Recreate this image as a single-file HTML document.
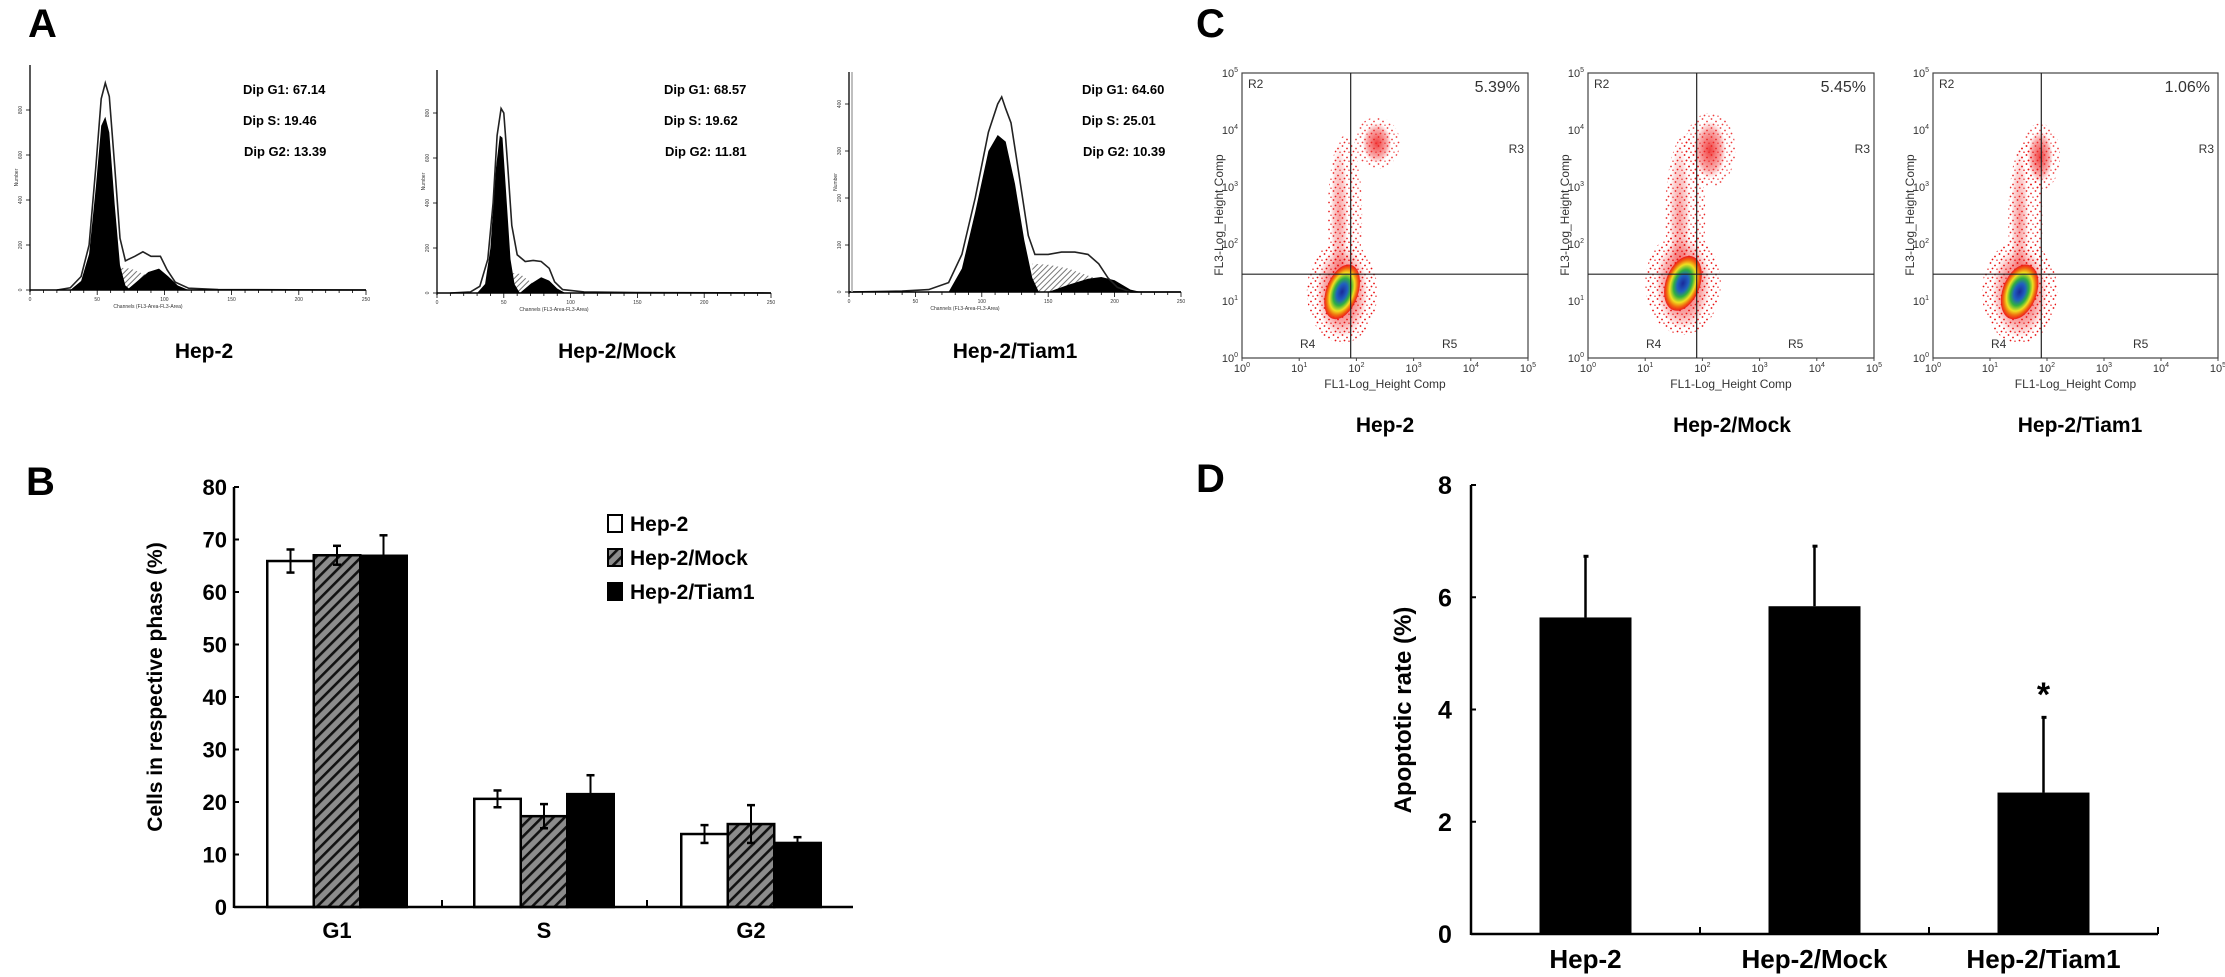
<!DOCTYPE html>
<html><head><meta charset="utf-8"><style>
html,body{margin:0;padding:0;background:#fff;}
svg{display:block;font-family:"Liberation Sans",Arial,sans-serif;}
</style></head><body>
<svg id="fig" xmlns="http://www.w3.org/2000/svg" width="2225" height="977" viewBox="0 0 2225 977">
<defs>
<pattern id="hatchB" patternUnits="userSpaceOnUse" width="8" height="8" patternTransform="rotate(45)"><rect width="8" height="8" fill="#8c8c8c"/><rect width="2.6" height="8" fill="#111"/></pattern>
<pattern id="hatchS" patternUnits="userSpaceOnUse" width="4" height="4" patternTransform="rotate(45)"><rect width="4" height="4" fill="#fff"/><rect width="1" height="4" fill="#777"/></pattern>
<pattern id="speck" patternUnits="userSpaceOnUse" width="9" height="9"><circle cx="1.5" cy="2" r="0.9" fill="#e81010"/><circle cx="6" cy="4.5" r="0.9" fill="#e81010"/><circle cx="3.5" cy="7.5" r="0.9" fill="#e81010"/><circle cx="8" cy="8.2" r="0.7" fill="#e81010"/></pattern>
<radialGradient id="core"><stop offset="0" stop-color="#1a2a9a"/><stop offset="0.3" stop-color="#2060c0"/><stop offset="0.5" stop-color="#30b040"/><stop offset="0.7" stop-color="#f0e020"/><stop offset="0.85" stop-color="#f07010"/><stop offset="1" stop-color="#ee1010" stop-opacity="0.9"/></radialGradient>
<radialGradient id="halo"><stop offset="0" stop-color="#ee1010" stop-opacity="0.8"/><stop offset="0.7" stop-color="#ee1010" stop-opacity="0.35"/><stop offset="1" stop-color="#ee1010" stop-opacity="0"/></radialGradient>
</defs>
<g id="layer"></g>
</svg>
<script>
// ---------- DATA ----------
const phaseCategories = ["G1","S","G2"];
const seriesNames = ["Hep-2","Hep-2/Mock","Hep-2/Tiam1"];
const hep2Values = [65.9, 20.6, 13.9];
const mockValues = [67.0, 17.3, 15.8];
const tiamValues = [66.9, 21.5, 12.2];
const hep2Err = [2.2, 1.6, 1.7];
const mockErr = [1.8, 2.3, 3.6];
const tiamErr = [3.9, 3.6, 1.1];
const bTicks = [0,10,20,30,40,50,60,70,80];
const dCategories = ["Hep-2","Hep-2/Mock","Hep-2/Tiam1"];
const apoptoticValues = [5.64, 5.84, 2.52];
const apoptoticErr = [1.09, 1.07, 1.34];
const dTicks = [0,2,4,6,8];
const hist1Outline = [[20,0],[30,10],[38,60],[44,200],[49,550],[53,850],[56,920],[59,860],[63,550],[67,230],[71,130],[78,150],[84,170],[90,150],[97,150],[102,90],[108,35],[118,8],[140,2],[250,0]];
const hist1G1 = [[30,0],[38,40],[44,160],[49,460],[53,730],[56,770],[59,700],[63,380],[67,110],[71,20],[75,0]];
const hist1G2 = [[72,0],[80,40],[88,80],[96,95],[103,60],[110,20],[118,0]];
const hist1S = [[66,100],[75,95],[85,70],[95,40],[105,10]];
const hist2Outline = [[10,0],[25,5],[32,30],[38,150],[42,400],[45,700],[48,820],[50,800],[53,560],[56,300],[60,170],[66,140],[72,145],[78,140],[84,110],[88,50],[94,15],[110,5],[150,2],[250,0]];
const hist2G1 = [[30,0],[36,40],[40,200],[44,550],[47,700],[49,690],[52,420],[55,150],[58,40],[62,0]];
const hist2G2 = [[62,0],[70,40],[78,70],[84,55],[90,20],[96,0]];
const hist2S = [[55,90],[62,85],[70,50],[78,20],[84,0]];
const hist3Outline = [[0,0],[40,2],[60,5],[75,20],[85,80],[95,200],[105,340],[112,400],[115,415],[118,390],[122,360],[128,250],[135,120],[140,80],[150,80],[160,85],[170,85],[180,80],[188,60],[195,30],[202,10],[212,0],[250,0]];
const hist3G1 = [[75,0],[85,50],[95,170],[105,300],[112,334],[118,320],[125,230],[132,110],[138,30],[143,0]];
const hist3G2 = [[150,0],[165,15],[180,28],[190,32],[200,25],[212,5],[220,0]];
const hist3S = [[138,60],[150,58],[165,50],[180,35],[195,20]];
const histStats = [["67.14","19.46","13.39"],["68.57","19.62","11.81"],["64.60","25.01","10.39"]];
const groupLabels = ["Hep-2","Hep-2/Mock","Hep-2/Tiam1"];
const mainClusters = [[1.75,1.16,0.28,0.5],[1.66,1.31,0.3,0.5],[1.52,1.16,0.3,0.5]];
const upperClusters = [[2.36,3.77,0.25,0.35],[2.13,3.65,0.28,0.5],[1.88,3.53,0.22,0.45]];
const streamClusters = [[1.8,2.5,0.3,1.4],[1.7,2.5,0.35,1.4],[1.62,2.4,0.3,1.4]];
const upperRightPct = ["5.39%","5.45%","1.06%"];

// ---------- HELPERS ----------
const NS = "http://www.w3.org/2000/svg";
const layer = document.getElementById("layer");
function mk(tag, attrs, parent){ const e=document.createElementNS(NS,tag); for(const k in attrs) e.setAttribute(k,attrs[k]); (parent||layer).appendChild(e); return e; }
function txt(x,y,s,size,opts,parent){ opts=opts||{}; const t=mk("text",{x:x,y:y,"font-size":size,"text-anchor":opts.anchor||"start","font-weight":opts.bold?"bold":"normal",fill:opts.fill||"#000"},parent); if(opts.transform) t.setAttribute("transform",opts.transform); t.textContent=s; return t; }

[["A",28,37],["B",26,495],["C",1196,37],["D",1196,492]].forEach(p=>{
  const t=txt(p[1],p[2],p[0],40,{bold:true});
  
  
});

// ---------- PANEL A ----------
const hists = [
 {x0:30,x1:366,base:290,top:65,perTick:200,pxTick:45,yTicks:[0,200,400,600,800],outline:hist1Outline,g1:hist1G1,g2:hist1G2,s:hist1S,tx:243,lx:204},
 {x0:437,x1:771,base:293,top:70,perTick:200,pxTick:45,yTicks:[0,200,400,600,800],outline:hist2Outline,g1:hist2G1,g2:hist2G2,s:hist2S,tx:664,lx:617},
 {x0:849,x1:1181,base:292,top:72,perTick:100,pxTick:47,yTicks:[0,100,200,300,400],outline:hist3Outline,g1:hist3G1,g2:hist3G2,s:hist3S,tx:1082,lx:1015}
];
hists.forEach((h,i)=>{
  const g=mk("g",{});
  
  
  const X=c=>h.x0+(c/250)*(h.x1-h.x0);
  const Y=v=>h.base-(v/h.perTick)*h.pxTick;
  const pts=a=>a.map(p=>X(p[0]).toFixed(1)+","+Y(p[1]).toFixed(1)).join(" ");
  const sArea=mk("polygon",{points:pts(h.s)+" "+X(h.s[h.s.length-1][0])+","+h.base+" "+X(h.s[0][0])+","+h.base,fill:"url(#hatchS)"},g);
  
  
  const g1=mk("polygon",{points:pts(h.g1),fill:"#000"},g);
  
  
  const g2=mk("polygon",{points:pts(h.g2),fill:"#000"},g);
  
  
  const o=mk("polyline",{points:pts(h.outline),fill:"none",stroke:"#222","stroke-width":1.6},g);
  
  
  mk("line",{x1:h.x0,y1:h.top,x2:h.x0,y2:h.base+2,stroke:"#000","stroke-width":1.3},g);
  mk("line",{x1:h.x0,y1:h.base,x2:h.x1,y2:h.base,stroke:"#000","stroke-width":1.5},g);
  for(let c=0;c<=250;c+=10){ mk("line",{x1:X(c),y1:h.base,x2:X(c),y2:h.base+(c%50==0?5:3),stroke:"#000","stroke-width":0.8},g); }
  for(let c=0;c<=250;c+=50){ txt(X(c),h.base+11,String(c),5,{anchor:"middle",fill:"#333"},g); }
  h.yTicks.forEach(v=>{ mk("line",{x1:h.x0-4,y1:Y(v),x2:h.x0,y2:Y(v),stroke:"#000","stroke-width":0.8},g); txt(h.x0-8,Y(v),String(v),5,{anchor:"middle",fill:"#333",transform:`rotate(-90 ${h.x0-8} ${Y(v)})`},g); });
  txt(h.x0-12,(h.top+h.base)/2,"Number",5,{anchor:"middle",fill:"#333",transform:`rotate(-90 ${h.x0-12} ${(h.top+h.base)/2})`},g);
  txt((h.x0+h.x1)/2-50,h.base+18,"Channels (FL3-Area-FL3-Area)",5,{anchor:"middle",fill:"#333"},g);
  if(i==2){ mk("line",{x1:h.x0+3,y1:h.top,x2:h.x0+3,y2:h.base,stroke:"#aaa","stroke-width":1.5},g); }
  const labs=["Dip G1: ","Dip S: ","Dip G2: "];
  [94,125,156].forEach((yy,k)=>{ const t=txt(h.tx+(k==2?1:0),yy,labs[k]+histStats[i][k],13,{bold:true},g);
      });
  const gl=txt(h.lx,358,groupLabels[i],21,{anchor:"middle",bold:true});
  
  
});

// ---------- PANEL C ----------
const scat=[{l:1242,r:1528},{l:1588,r:1874},{l:1933,r:2218}];
const sTop=73,sBot=358;
scat.forEach((s,i)=>{
  const g=mk("g",{});
  
  
  const dec=(s.r-s.l)/5, decY=(sBot-sTop)/5;
  const X=v=>s.l+v*dec, Y=v=>sBot-v*decY;
  const st=streamClusters[i];
  mk("ellipse",{cx:X(st[0]),cy:Y(st[1]),rx:st[2]*dec,ry:st[3]*decY,fill:"url(#speck)",opacity:0.9},g);
  mk("ellipse",{cx:X(st[0]-0.1),cy:Y(st[1]),rx:st[2]*dec*0.5,ry:st[3]*decY*0.9,fill:"url(#halo)",opacity:0.5},g);
  const up=upperClusters[i];
  mk("ellipse",{cx:X(up[0]),cy:Y(up[1]),rx:up[2]*dec*1.6,ry:up[3]*decY*1.3,fill:"url(#speck)",opacity:0.8},g);
  const ue=mk("ellipse",{cx:X(up[0]),cy:Y(up[1]),rx:up[2]*dec,ry:up[3]*decY,fill:"url(#halo)"},g);
  
  
  const m=mainClusters[i];
  mk("ellipse",{cx:X(m[0]),cy:Y(m[1]),rx:m[2]*dec*2.2,ry:m[3]*decY*1.8,fill:"url(#speck)"},g);
  mk("ellipse",{cx:X(m[0]),cy:Y(m[1]),rx:m[2]*dec*1.6,ry:m[3]*decY*1.6,fill:"url(#halo)"},g);
  const me=mk("ellipse",{cx:X(m[0]),cy:Y(m[1]),rx:m[2]*dec,ry:m[3]*decY,fill:"url(#core)",transform:`rotate(20 ${X(m[0])} ${Y(m[1])})`},g);
  
  
  mk("rect",{x:s.l,y:sTop,width:s.r-s.l,height:sBot-sTop,fill:"none",stroke:"#444","stroke-width":1.2},g);
  const vx=X(1.9), hy=Y(1.47);
  mk("line",{x1:vx,y1:sTop,x2:vx,y2:sBot,stroke:"#222","stroke-width":1.2},g);
  mk("line",{x1:s.l,y1:hy,x2:s.r,y2:hy,stroke:"#222","stroke-width":1.2},g);
  for(let d=0;d<=5;d++){
    mk("line",{x1:X(d),y1:sBot,x2:X(d),y2:sBot+3,stroke:"#444"},g);
    const tx=mk("text",{x:X(d),y:372,"font-size":11,"text-anchor":"middle",fill:"#333"},g);
    tx.innerHTML="10<tspan dy='-5' font-size='7'>"+d+"</tspan>";
    const ty=mk("text",{x:s.l-4,y:Y(d)+4,"font-size":11,"text-anchor":"end",fill:"#333"},g);
    ty.innerHTML="10<tspan dy='-5' font-size='7'>"+d+"</tspan>";
  }
  txt((s.l+s.r)/2,388,"FL1-Log_Height Comp",12,{anchor:"middle",fill:"#333"},g);
  txt(s.l-19,215,"FL3-Log_Height Comp",12,{anchor:"middle",fill:"#333",transform:`rotate(-90 ${s.l-19} 215)`},g);
  txt(s.l+6,88,"R2",12,{fill:"#333"},g);
  const pc=txt(s.r-8,92,upperRightPct[i],16,{anchor:"end",fill:"#333"},g);
  
  
  txt(s.r-4,153,"R3",12,{anchor:"end",fill:"#333"},g);
  txt(s.l+58,348,"R4",12,{fill:"#333"},g);
  txt(s.l+200,348,"R5",12,{fill:"#333"},g);
  const gl=txt([1385,1732,2080][i],432,groupLabels[i],21,{anchor:"middle",bold:true});
  
  
});

// ---------- PANEL B ----------
(function(){
  const g=mk("g",{});
  
  
  const ax0=234, base=907, top=487, catW=207, barW=46.5, axEnd=853;
  const Y=v=>base-(v/80)*(base-top);
  const catC=i=>337+i*catW;
  const fills=["#fff","url(#hatchB)","#000"];
  const vals=[hep2Values,mockValues,tiamValues], errs=[hep2Err,mockErr,tiamErr];
  phaseCategories.forEach((c,i)=>{
    for(let s=0;s<3;s++){
      const x=catC(i)+(s-1.5)*barW, v=vals[s][i], e=errs[s][i];
      const r=mk("rect",{x:x,y:Y(v),width:barW,height:base-Y(v),fill:fills[s],stroke:"#000","stroke-width":2.5},g);
      
      
      const cx=x+barW/2;
      mk("line",{x1:cx,y1:Y(v+e),x2:cx,y2:Y(v-e),stroke:"#000","stroke-width":2},g);
      mk("line",{x1:cx-4,y1:Y(v+e),x2:cx+4,y2:Y(v+e),stroke:"#000","stroke-width":2.5},g);
      mk("line",{x1:cx-4,y1:Y(v-e),x2:cx+4,y2:Y(v-e),stroke:"#000","stroke-width":2.5},g);
    }
    const l=txt(catC(i),938,c,22,{anchor:"middle",bold:true},g);
    
    
  });
  mk("line",{x1:ax0,y1:top,x2:ax0,y2:base+1,stroke:"#000","stroke-width":2.5},g);
  mk("line",{x1:ax0,y1:base,x2:axEnd,y2:base,stroke:"#000","stroke-width":2.5},g);
  [442,647].forEach(x=>mk("line",{x1:x,y1:base,x2:x,y2:base-7,stroke:"#000","stroke-width":2},g));
  bTicks.forEach(v=>{ mk("line",{x1:ax0,y1:Y(v),x2:ax0+5,y2:Y(v),stroke:"#000","stroke-width":2},g);
    const t=txt(ax0-7,Y(v)+8,String(v),22,{anchor:"end",bold:true},g);
      });
  const yt=txt(162,687,"Cells in respective phase (%)",21,{anchor:"middle",bold:true,transform:"rotate(-90 162 687)"},g);
  
  
  seriesNames.forEach((n,s)=>{
    const yy=[531,565,599][s];
    const lg=mk("g",{},g);
    
    
    mk("rect",{x:608,y:yy-16,width:14,height:17,fill:fills[s],stroke:"#000","stroke-width":2},lg);
    txt(630,yy,n,21,{bold:true},lg);
  });
})();

// ---------- PANEL D ----------
(function(){
  const g=mk("g",{});
  
  
  const ax0=1471, base=934, top=485, catW=229, barW=92, axEnd=2158;
  const Y=v=>base-(v/8)*(base-top);
  const catC=i=>ax0+catW*(i+0.5);
  dCategories.forEach((c,i)=>{
    const v=apoptoticValues[i], e=apoptoticErr[i], x=catC(i)-barW/2;
    const r=mk("rect",{x:x,y:Y(v),width:barW,height:base-Y(v),fill:"#000"},g);
    
    
    mk("line",{x1:catC(i),y1:Y(v),x2:catC(i),y2:Y(v+e),stroke:"#000","stroke-width":2.5},g);
    mk("line",{x1:catC(i)-2,y1:Y(v+e),x2:catC(i)+3,y2:Y(v+e),stroke:"#000","stroke-width":3},g);
    const l=txt(catC(i),968,c,26,{anchor:"middle",bold:true},g);
    
    
  });
  const star=txt(catC(2),706,"*",34,{anchor:"middle",bold:true},g);
  
  
  mk("line",{x1:ax0,y1:top,x2:ax0,y2:base+1,stroke:"#000","stroke-width":2.5},g);
  mk("line",{x1:ax0,y1:base,x2:axEnd,y2:base,stroke:"#000","stroke-width":2.5},g);
  [1,2,3].forEach(k=>mk("line",{x1:ax0+catW*k,y1:base,x2:ax0+catW*k,y2:base-7,stroke:"#000","stroke-width":2},g));
  dTicks.forEach(v=>{ mk("line",{x1:ax0,y1:Y(v),x2:ax0+5,y2:Y(v),stroke:"#000","stroke-width":2},g);
    const t=txt(ax0-26,Y(v)+9,String(v),25,{anchor:"middle",bold:true},g);
      });
  const yt=txt(1411,710,"Apoptotic rate (%)",24,{anchor:"middle",bold:true,transform:"rotate(-90 1411 710)"},g);
  
  
})();
</script>
</body></html>
